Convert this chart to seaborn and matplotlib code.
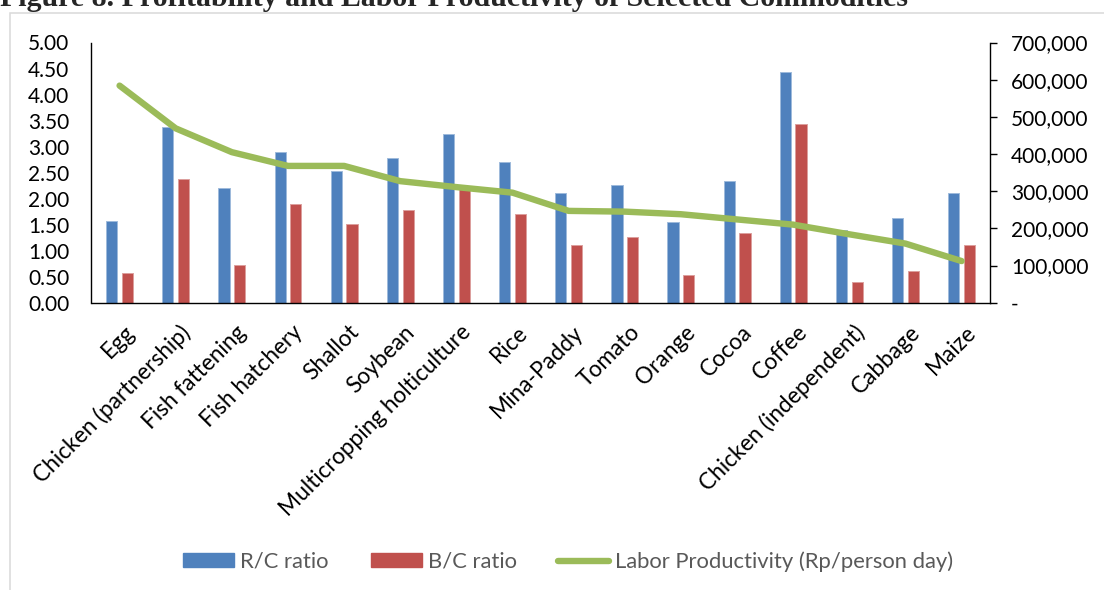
import numpy as np
import pandas as pd
import matplotlib
matplotlib.use("Agg")
import matplotlib.pyplot as plt
import matplotlib.transforms as mtransforms
from matplotlib.patches import Patch, Rectangle
from matplotlib.lines import Line2D
from matplotlib.ticker import FuncFormatter, MultipleLocator
import seaborn as sns

# ---- data ----
commodities = [
    "Egg", "Chicken (partnership)", "Fish fattening", "Fish hatchery", "Shallot",
    "Soybean", "Multicropping holticulture", "Rice", "Mina-Paddy", "Tomato",
    "Orange", "Cocoa", "Coffee", "Chicken (independent)", "Cabbage", "Maize",
]
rc_ratio = [1.57, 3.38, 2.21, 2.89, 2.53, 2.79, 3.24, 2.70, 2.10, 2.27,
            1.55, 2.33, 4.43, 1.39, 1.62, 2.11]
bc_ratio = [0.58, 2.38, 0.72, 1.90, 1.52, 1.79, 2.24, 1.71, 1.10, 1.26,
            0.54, 1.34, 3.43, 0.40, 0.61, 1.11]
labor_productivity = [584000, 469000, 405000, 368000, 368000, 327000, 311000,
                      296000, 247000, 245000, 238000, 224000, 210000, 184000,
                      159000, 112000]
series_names = ["R/C ratio", "B/C ratio", "Labor Productivity (Rp/person day)"]
title_text = "Figure 8. Profitability and Labor Productivity of Selected Commodities"

BLUE = "#4F81BD"
RED = "#C0504D"
GREEN = "#9BBB59"

sns.set_theme(style="white")
plt.rcParams["font.family"] = ["Lato", "DejaVu Sans"]

bars_df = pd.DataFrame({
    "Commodity": commodities * 2,
    "Ratio": rc_ratio + bc_ratio,
    "Measure": [series_names[0]] * len(commodities) + [series_names[1]] * len(commodities),
})
line_df = pd.DataFrame({
    "pos": np.arange(len(commodities)),
    "Labor": labor_productivity,
})

W, H = 1104, 590
fig = plt.figure(figsize=(W / 100, H / 100), dpi=100)
ax = fig.add_axes([91.5 / W, 1 - 302.7 / H, (989.7 - 91.5) / W, (302.7 - 42.5) / H])

sns.barplot(data=bars_df, x="Commodity", y="Ratio", hue="Measure",
            palette=[BLUE, RED], saturation=1, width=0.56, gap=0.286,
            legend=False, ax=ax, zorder=2)
for p in ax.patches:
    fc = np.array(p.get_facecolor())
    p.set_edgecolor(tuple(fc[:3] + (1 - fc[:3]) * 0.45) + (1,))
    p.set_linewidth(0.7)

ax2 = ax.twinx()
sns.lineplot(data=line_df, x="pos", y="Labor", ax=ax2, color=GREEN,
             linewidth=4.6, solid_capstyle="round", solid_joinstyle="round")

# ---- axes ----
ax.set_xlim(-0.5, len(commodities) - 0.5)
ax.set_ylim(0, 5)
ax2.set_ylim(0, 700000)
ax.yaxis.set_major_locator(MultipleLocator(0.5))
ax.yaxis.set_major_formatter(FuncFormatter(lambda v, _: f"{v:.2f}"))
ax2.yaxis.set_major_locator(MultipleLocator(100000))
ax2.yaxis.set_major_formatter(FuncFormatter(lambda v, _: "-" if abs(v) < 1 else f"{v:,.0f}"))

for a in (ax, ax2):
    a.set_xlabel("")
    a.set_ylabel("")
    for s in a.spines.values():
        s.set_visible(False)
ax.spines["left"].set_visible(True)
ax.spines["bottom"].set_visible(True)
ax2.spines["right"].set_visible(True)
for s in (ax.spines["left"], ax.spines["bottom"], ax2.spines["right"]):
    s.set_color("black")
    s.set_linewidth(1.0)

ax.tick_params(axis="y", length=0, pad=16, labelsize=15, labelcolor="black")
ax2.tick_params(axis="y", length=5, width=1.0, direction="out", color="black",
                pad=10.5, labelsize=15, labelcolor="black")
ax.tick_params(axis="x", length=0, pad=13.5, labelsize=16.3, labelcolor="black")

ax.set_xticks(range(len(commodities)))
ax.set_xticklabels(commodities, rotation=45, ha="right", va="top",
                   rotation_mode="anchor")
shift = mtransforms.ScaledTranslation(4 / 100, 0, fig.dpi_scale_trans)
for lbl in ax.get_xticklabels():
    lbl.set_transform(lbl.get_transform() + shift)

# ---- legend ----
handles = [
    Patch(facecolor=BLUE, edgecolor=BLUE),
    Patch(facecolor=RED, edgecolor=RED),
    Line2D([0], [0], color=GREEN, linewidth=4.6, solid_capstyle="round"),
]
fig.legend(handles, series_names, loc="center", bbox_to_anchor=(568.4 / W, 1 - 561.7 / H),
           ncol=3, frameon=False, fontsize=15.8, labelcolor="#595959",
           handlelength=2.33, handleheight=0.6, handletextpad=0.27, columnspacing=1.9)

# ---- chart frame and title ----
fig.add_artist(Rectangle((9.5 / W, -0.02), 1.2, 1 - 12.7 / H + 0.02,
                         transform=fig.transFigure, fill=False,
                         edgecolor="#D9D9D9", linewidth=1.1))
fig.text(0, 1 - 6 / H, title_text, ha="left", va="baseline",
         fontsize=21.5, fontweight="bold", family=["Liberation Serif", "DejaVu Serif"])

fig.savefig("out.png", dpi=100)
